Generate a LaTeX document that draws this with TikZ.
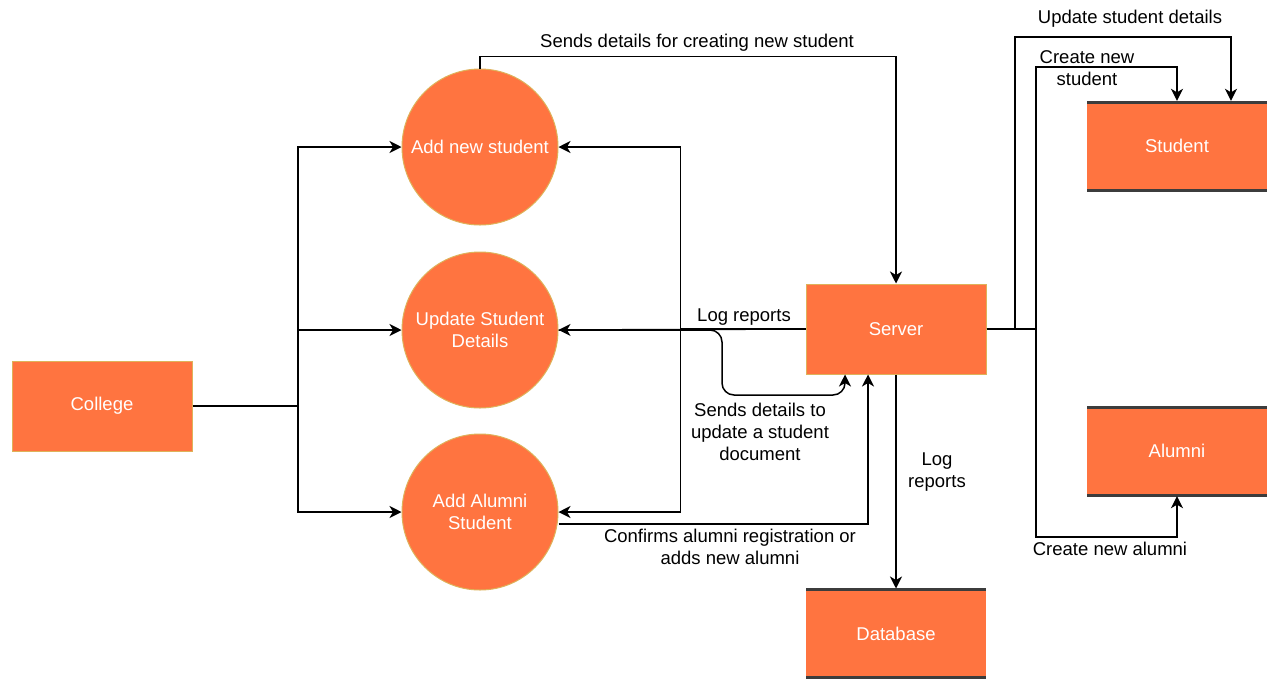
\documentclass[tikz,border=0pt]{standalone}
\usepackage{fontspec}
\setmainfont{Liberation Sans}
\usetikzlibrary{positioning,arrows.meta}
\definecolor{boxfill}{RGB}{255,116,64}
\definecolor{boxline}{RGB}{222,178,90}
\definecolor{storeline}{RGB}{60,60,60}
\begin{document}
\begin{tikzpicture}[x=1pt,y=-1pt,font=\fontsize{18.5}{22}\selectfont]
\tikzstyle{entity}=[draw=boxline,line width=1pt,fill=boxfill,text=white,minimum width=180,minimum height=90]
\tikzstyle{process}=[draw=boxline,line width=1pt,circle,fill=boxfill,text=white,minimum size=156,align=center,inner sep=0pt]
\tikzstyle{store}=[fill=boxfill,text=white,minimum width=180,minimum height=90,
  path picture={\draw[storeline,line width=5pt] (path picture bounding box.north west) -- (path picture bounding box.north east)
  (path picture bounding box.south west) -- (path picture bounding box.south east);}]
\tikzstyle{flow}=[line width=1.5pt,>={Stealth[length=12pt,width=12pt,inset=3.5pt]}]
\tikzstyle{lbl}=[align=center,inner sep=0pt]
\useasboundingbox (0,0) rectangle (1280,689);

\node[entity] (col) at (102,406) {College};

\node[process] (add) at (480,147) {Add new student};
\node[process,below = 26pt of add] (upd) {Update Student\\Details};
\node[process,below = 25pt of upd] (alu) {Add Alumni\\Student};

\node[entity] (srv) at (896,329) {Server};
\node[store,below = 214pt of srv] (db) {Database};

\node[store] (stu) at (1177,146) {Student};
\node[store] (alm) at (1177,451) {Alumni};

\coordinate (cj) at (298,406);

% college to the three processes
\draw[flow] (col.east) -- (cj);
\draw[flow,->] (cj) |- (add.west);
\draw[flow,->] (cj) |- (upd.west);
\draw[flow,->] (cj) |- (alu.west);

% server back to the processes
\draw[flow,->] (srv.west) -- (upd.east);
\draw[flow,->] (srv.west) -- ++(-125,0) |- (add.east);
\draw[flow,->] (srv.west) -- ++(-125,0) |- (alu.east);

% processes to server
\draw[flow,->] (add.north) -- ++(0,-12) -| (srv.north);
\draw[flow,->,rounded corners=12] (upd.east) -| (722,395) -| ([xshift=-51]srv.south);
\draw[flow,->] ([yshift=-12]alu.east) -| ([xshift=-28]srv.south);

\draw[flow,->] (srv.south) -- (db.north);

% server to the stores
\draw[flow,->] (srv.east) -| (1015,37) -| ([xshift=54]stu.north);
\draw[flow,->] (srv.east) -| (1036,67) -| (stu.north);
\draw[flow,->] (srv.east) -| (1036,537) -| (alm.south);

\node[lbl] (l1) at (697,43) {Sends details for creating new student};
\node[lbl] (l2) at (744,317) {Log reports};
\node[lbl] (l3) at (760,432) {Sends details to\\update a student\\document};
\node[lbl] (l4) at (730,547) {Confirms alumni registration or\\adds new alumni};
\node[lbl] (l5) at (937,472) {Log\\reports};
\node[lbl] (l6) at (1130,19) {Update student details};
\node[lbl] (l7) at (1087,68) {Create new\\student};
\node[lbl] (l8) at (1110,549) {Create new alumni};
\end{tikzpicture}
\end{document}
